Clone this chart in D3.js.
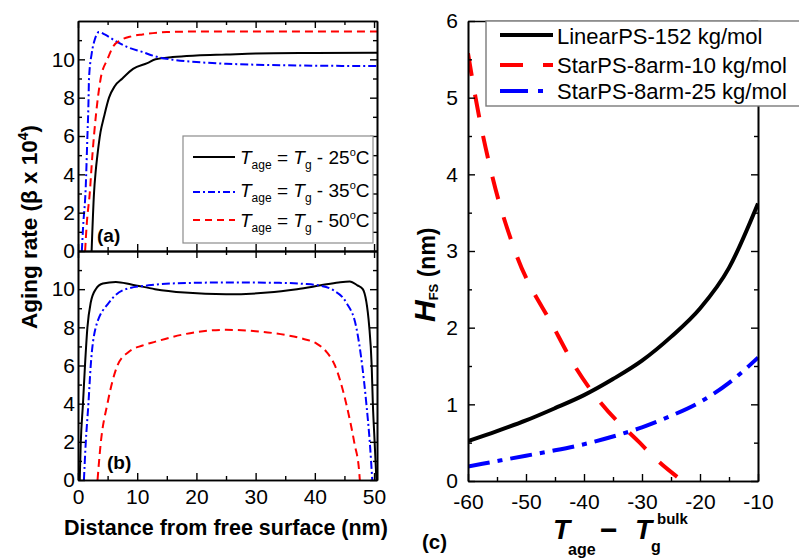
<!DOCTYPE html>
<html>
<head>
<meta charset="utf-8">
<script src="https://cdn.jsdelivr.net/npm/d3@7"></script>
<style>
  body { margin: 0; background: #fff; }
  svg { display: block; }
  text { font-family: "Liberation Sans", Arial, Helvetica, sans-serif; fill: #000; }
</style>
</head>
<body>
<svg id="fig" width="799" height="558"></svg>
<script>
// ---- (a) aging rate near one free surface (beta x 10^4) ----
const distA25 = [2.3, 2.7, 3.0, 3.28, 3.8, 4.39, 5.24, 6.2, 7.5, 9.3, 11.7, 13.1, 16, 20, 25, 30, 40, 50.5];
const rateA25 = [0, 3, 4.2, 5, 6.2, 7, 8, 8.6, 9, 9.5, 9.8, 10, 10.12, 10.2, 10.25, 10.3, 10.33, 10.35];
const distA35 = [0.65, 0.85, 1.3, 1.59, 1.75, 1.86, 2.31, 2.8, 3.55, 4.5, 6.37, 8.5, 10.9, 13.1, 16, 20, 25, 30, 40, 50.5];
const rateA35 = [0, 1.2, 3.3, 6, 7.5, 9, 10.3, 11.0, 11.42, 11.3, 10.95, 10.62, 10.38, 10.15, 9.98, 9.86, 9.77, 9.72, 9.67, 9.65];
const distA50 = [1.2, 1.5, 1.98, 2.43, 3.0, 3.83, 4.97, 6.0, 7.2, 9.0, 10.9, 15, 20, 50.5];
const rateA50 = [0, 1.5, 3, 5, 7, 9, 10, 10.7, 11, 11.2, 11.3, 11.42, 11.45, 11.45];

// ---- (b) aging rate across a 50 nm film with two free surfaces ----
const distB25 = [0.29, 0.46, 0.84, 1.18, 1.59, 2.15, 3.0, 4.2, 6.4, 9, 13, 18, 25, 32, 37, 41, 44, 45.9, 47.2, 48.1, 49.2, 49.6, 49.8, 50.1, 50.4];
const rateB25 = [0, 1.9, 4, 6, 8, 9.3, 10, 10.3, 10.38, 10.25, 10.0, 9.82, 9.73, 9.82, 10.0, 10.2, 10.35, 10.4, 10.2, 10, 8, 6, 4, 2, 0];
const distB35 = [1.0, 1.3, 1.76, 2.15, 3.0, 5.24, 8.06, 11.9, 16, 25, 34, 38, 41, 43.1, 45.3, 47, 48, 48.7, 49.3, 49.7];
const rateB35 = [0, 1.9, 4, 6, 8, 9.3, 10, 10.2, 10.3, 10.35, 10.33, 10.28, 10.18, 9.95, 9.3, 8, 6, 4, 1.9, 0];
const distB50 = [3.3, 3.83, 4.97, 6.66, 8.5, 10.9, 13.1, 16, 20, 25, 30, 35, 38, 40.3, 42, 43.4, 45.3, 46.7, 47.5, 47.6];
const rateB50 = [0, 1.9, 4, 6, 6.7, 7.05, 7.25, 7.5, 7.75, 7.87, 7.8, 7.6, 7.4, 7.15, 6.7, 6.0, 4, 1.9, 0.4, 0];

const ageLabels = ["25", "35", "50"];

// ---- (c) free-surface layer thickness H_FS (nm) vs T_age - Tg_bulk ----
const tempC = [-60, -55, -50, -45, -40, -35, -30, -25, -20, -15, -10];
const hLinear152 = [0.52, 0.65, 0.79, 0.95, 1.12, 1.33, 1.57, 1.88, 2.25, 2.78, 3.62];
const hStar25 = [0.19, 0.26, 0.33, 0.40, 0.48, 0.58, 0.70, 0.85, 1.03, 1.28, 1.61];
const tempStar10 = [-60, -58.7, -55.9, -51.9, -45.2, -41.6, -36.9, -30.4, -27.8, -23];
const hStar10 = [5.58, 5, 4, 3, 2, 1.5, 1, 0.5, 0.3, 0];
const seriesC = ["LinearPS-152 kg/mol", "StarPS-8arm-10 kg/mol", "StarPS-8arm-25 kg/mol"];

const xTicksDist = [0, 10, 20, 30, 40, 50];
const xMinorDist = [5, 15, 25, 35, 45];
const yTicksRate = [0, 2, 4, 6, 8, 10];
const yMinorRate = [1, 3, 5, 7, 9, 11];
const xTicksTemp = [-60, -50, -40, -30, -20, -10];
const xMinorTemp = [-55, -45, -35, -25, -15];
const yTicksH = [0, 1, 2, 3, 4, 5, 6];
const yMinorH = [0.5, 1.5, 2.5, 3.5, 4.5, 5.5];

const svg = d3.select("#fig");
svg.append("rect").attr("width", 799).attr("height", 558).attr("fill", "#fff");

const BLACK = "#000", BLUE = "#0000ff", RED = "#ff0000";
// plain hyphen for negative tick values
const plain = d => String(d);

// scales
const xDist = d3.scaleLinear().domain([0, 50.5]).range([78, 377]);
const yA = d3.scaleLinear().domain([0, 12]).range([251, 21]);
const yB = d3.scaleLinear().domain([0, 12]).range([480, 251]);
const xT = d3.scaleLinear().domain([-60, -10]).range([468, 758]);
const yH = d3.scaleLinear().domain([0, 6]).range([481, 21]);

function styleAxis(sel, fs) {
  sel.select(".domain").attr("stroke", "#000").attr("stroke-width", 1.6);
  sel.selectAll(".tick line").attr("stroke", "#000").attr("stroke-width", 1.4);
  sel.selectAll(".tick text").attr("font-size", fs).attr("font-family", '"Liberation Sans", Arial, sans-serif').attr("fill", "#000");
}

// frame with inward ticks on all four sides
function frame(x, y, o) {
  const g = svg.append("g");
  const [y0, y1] = y.range();
  const [x0, x1] = x.range();
  const add = (axis, tr) => {
    const a = g.append("g").attr("transform", tr).call(axis);
    styleAxis(a, o.fs);
    return a;
  };
  // bottom
  add(d3.axisBottom(x).tickValues(o.xMajor).tickSize(-7).tickSizeOuter(0).tickPadding(o.xPad)
      .tickFormat(o.xLabels ? plain : ""), `translate(0,${y0})`);
  add(d3.axisBottom(x).tickValues(o.xMinor).tickSize(-4).tickSizeOuter(0).tickFormat(""), `translate(0,${y0})`);
  // top
  if (o.topTicks) {
    add(d3.axisTop(x).tickValues(o.xMajor).tickSize(-7).tickSizeOuter(0).tickFormat(""), `translate(0,${y1})`);
    add(d3.axisTop(x).tickValues(o.xMinor).tickSize(-4).tickSizeOuter(0).tickFormat(""), `translate(0,${y1})`);
  } else {
    add(d3.axisTop(x).tickValues([]).tickSizeOuter(0), `translate(0,${y1})`);
  }
  // left
  add(d3.axisLeft(y).tickValues(o.yMajor).tickSize(-7).tickSizeOuter(0).tickPadding(o.yPad)
      .tickFormat(plain), `translate(${x0},0)`);
  add(d3.axisLeft(y).tickValues(o.yMinor).tickSize(-4).tickSizeOuter(0).tickFormat(""), `translate(${x0},0)`);
  // right
  add(d3.axisRight(y).tickValues(o.yMajor).tickSize(-7).tickSizeOuter(0).tickFormat(""), `translate(${x1},0)`);
  add(d3.axisRight(y).tickValues(o.yMinor).tickSize(-4).tickSizeOuter(0).tickFormat(""), `translate(${x1},0)`);
  return g;
}

function clipFor(id, x, y) {
  svg.append("clipPath").attr("id", id).append("rect")
    .attr("x", x.range()[0]).attr("y", y.range()[1])
    .attr("width", x.range()[1] - x.range()[0]).attr("height", y.range()[0] - y.range()[1]);
}

function curve(xs, ys, x, y, color, dash, width, clip) {
  const pts = xs.map((d, i) => [d, ys[i]]);
  const line = d3.line().x(d => x(d[0])).y(d => y(d[1])).curve(d3.curveMonotoneX);
  svg.append("path").attr("d", line(pts)).attr("fill", "none")
    .attr("stroke", color).attr("stroke-width", width)
    .attr("stroke-dasharray", dash).attr("clip-path", `url(#${clip})`);
}

clipFor("clipA", xDist, yA);
clipFor("clipB", xDist, yB);
clipFor("clipC", xT, yH);

const DASH_AB = { solid: null, dashdot: "8,3,2,3", dash: "8,5" };

// panel (a)
curve(distA25, rateA25, xDist, yA, BLACK, DASH_AB.solid, 2, "clipA");
curve(distA35, rateA35, xDist, yA, BLUE, DASH_AB.dashdot, 2, "clipA");
curve(distA50, rateA50, xDist, yA, RED, DASH_AB.dash, 2, "clipA");
// panel (b)
curve(distB25, rateB25, xDist, yB, BLACK, DASH_AB.solid, 2, "clipB");
curve(distB35, rateB35, xDist, yB, BLUE, DASH_AB.dashdot, 2, "clipB");
curve(distB50, rateB50, xDist, yB, RED, DASH_AB.dash, 2, "clipB");

frame(xDist, yA, { xMajor: xTicksDist, xMinor: xMinorDist, yMajor: yTicksRate, yMinor: yMinorRate,
  xLabels: false, xPad: 9, yPad: 3, fs: 21, topTicks: true });
frame(xDist, yB, { xMajor: xTicksDist, xMinor: xMinorDist, yMajor: yTicksRate, yMinor: yMinorRate,
  xLabels: true, xPad: 9, yPad: 3, fs: 21, topTicks: true });

// panel (c)
curve(tempC, hLinear152, xT, yH, BLACK, null, 4, "clipC");
curve(tempStar10, hStar10, xT, yH, RED, "23,19", 4, "clipC");
curve(tempC, hStar25, xT, yH, BLUE, "22,8,5,8", 4, "clipC");

frame(xT, yH, { xMajor: xTicksTemp, xMinor: xMinorTemp, yMajor: yTicksH, yMinor: yMinorH,
  xLabels: true, xPad: 13, yPad: 10, fs: 21, topTicks: false });

// legend (a)
const legA = svg.append("g");
legA.append("rect").attr("x", 183).attr("y", 136).attr("width", 190).attr("height", 107)
  .attr("fill", "#fff").attr("stroke", "#8c8c8c").attr("stroke-width", 1.2);
const legAStyles = [[BLACK, DASH_AB.solid], [BLUE, "7,3,2,3"], [RED, "7,5"]];
const legALineY = [157, 192, 220];
const legATextY = [164, 197, 227];
ageLabels.forEach((lab, i) => {
  legA.append("line").attr("x1", 193).attr("x2", 235).attr("y1", legALineY[i]).attr("y2", legALineY[i])
    .attr("stroke", legAStyles[i][0]).attr("stroke-width", 2).attr("stroke-dasharray", legAStyles[i][1]);
  const t = legA.append("text").attr("x", 240).attr("y", legATextY[i]).attr("font-size", 19);
  t.append("tspan").attr("font-style", "italic").text("T");
  t.append("tspan").attr("font-size", 12).attr("dy", 5).text("age");
  t.append("tspan").attr("dy", -5).text(" = ");
  t.append("tspan").attr("font-style", "italic").text("T");
  t.append("tspan").attr("font-size", 12).attr("dy", 5).text("g");
  t.append("tspan").attr("dy", -5).text(" - " + lab);
  t.append("tspan").attr("font-size", 11).attr("dy", -8).text("o");
  t.append("tspan").attr("dy", 8).text("C");
});

// legend (c)
const legC = svg.append("g");
legC.append("rect").attr("x", 486).attr("y", 21).attr("width", 330).attr("height", 85)
  .attr("fill", "#fff").attr("stroke", "#7a7a7a").attr("stroke-width", 1.4);
const legCStyles = [[BLACK, null], [RED, "23,20"], [BLUE, "28,10,5,10"]];
const legCLineY = [35, 65, 91];
const legCTextY = [44, 73, 99];
seriesC.forEach((name, i) => {
  legC.append("line").attr("x1", 500).attr("x2", 553).attr("y1", legCLineY[i]).attr("y2", legCLineY[i])
    .attr("stroke", legCStyles[i][0]).attr("stroke-width", 4).attr("stroke-dasharray", legCStyles[i][1]);
  legC.append("text").attr("x", 557).attr("y", legCTextY[i]).attr("font-size", 22).text(name);
});

// axis titles and panel tags
const yLabA = svg.append("text").attr("transform", "translate(37,227) rotate(-90)")
  .attr("text-anchor", "middle").attr("font-weight", "bold").attr("font-size", 22.5);
yLabA.append("tspan").text("Aging rate (\u03b2 x 10");
yLabA.append("tspan").attr("font-size", 14).attr("dy", -9).text("4");
yLabA.append("tspan").attr("dy", 9).text(")");

svg.append("text").attr("x", 226).attr("y", 535).attr("text-anchor", "middle")
  .attr("font-weight", "bold").attr("font-size", 21.5).text("Distance from free surface (nm)");

svg.append("text").attr("x", 97).attr("y", 242).attr("font-weight", "bold").attr("font-size", 19).text("(a)");
svg.append("text").attr("x", 107).attr("y", 469).attr("font-weight", "bold").attr("font-size", 19).text("(b)");
svg.append("text").attr("x", 422).attr("y", 549).attr("font-weight", "bold").attr("font-size", 20.5).text("(c)");

const yLabC = svg.append("text").attr("transform", "translate(435,322) rotate(-90)")
  .attr("font-weight", "bold").attr("font-size", 23);
yLabC.append("tspan").attr("font-style", "italic").attr("font-size", 30).text("H");
yLabC.append("tspan").attr("font-size", 13).attr("dy", 3).text("FS");
yLabC.append("tspan").attr("dy", -3).text(" (nm)");

const xl = svg.append("g").attr("font-weight", "bold");
xl.append("text").attr("x", 553).attr("y", 539).attr("font-style", "italic").attr("font-size", 28).text("T");
xl.append("text").attr("x", 568).attr("y", 555).attr("font-size", 16).text("age");
xl.append("text").attr("x", 600).attr("y", 540).attr("font-size", 30).text("\u2212");
xl.append("text").attr("x", 635).attr("y", 539).attr("font-style", "italic").attr("font-size", 28).text("T");
xl.append("text").attr("x", 651).attr("y", 552).attr("font-size", 16).text("g");
xl.append("text").attr("x", 657).attr("y", 524).attr("font-size", 15).text("bulk");
</script>
</body>
</html>
